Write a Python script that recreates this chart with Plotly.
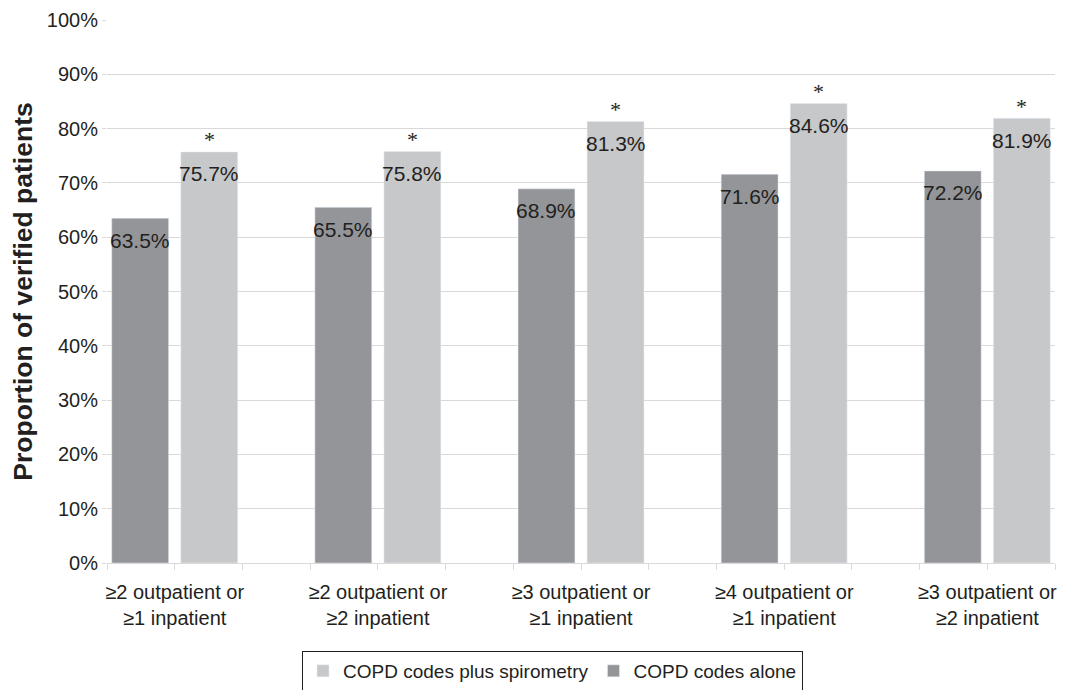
import plotly.graph_objects as go

categories = [
    "≥2 outpatient or<br>≥1 inpatient",
    "≥2 outpatient or<br>≥2 inpatient",
    "≥3 outpatient or<br>≥1 inpatient",
    "≥4 outpatient or<br>≥1 inpatient",
    "≥3 outpatient or<br>≥2 inpatient",
]
codes_alone = [0.635, 0.655, 0.689, 0.716, 0.722]
codes_spiro = [0.757, 0.758, 0.813, 0.846, 0.819]
significant = ["*", "*", "*", "*", "*"]

DARK = "#939598"
LIGHT = "#c7c8ca"
TXT = "#231f20"
GRID = "#d9d9d9"
FONT = "Liberation Sans, Arial, sans-serif"

xs = list(range(len(categories)))
BW = 0.28
OFF_D = -0.31
OFF_L = 0.03

fig = go.Figure()
fig.add_trace(go.Bar(
    x=xs, y=codes_alone, name="COPD codes alone", marker_color=DARK,
    width=BW, offset=OFF_D, legendrank=2,
))
fig.add_trace(go.Bar(
    x=xs, y=codes_spiro, name="COPD codes plus spirometry", marker_color=LIGHT,
    width=BW, offset=OFF_L, legendrank=1,
))

ann = []
for i, v in enumerate(codes_alone):
    ann.append(dict(x=i + OFF_D + BW / 2, y=v, xref="x", yref="y", text=f"{v*100:.1f}%",
                    showarrow=False, yanchor="middle", yshift=-22,
                    font=dict(size=21, color=TXT, family=FONT)))
for i, v in enumerate(codes_spiro):
    ann.append(dict(x=i + OFF_L + BW / 2, y=v, xref="x", yref="y", text=f"{v*100:.1f}%",
                    showarrow=False, yanchor="middle", yshift=-22,
                    font=dict(size=21, color=TXT, family=FONT)))
    ann.append(dict(x=i + OFF_L + BW / 2, y=v, xref="x", yref="y", text=significant[i],
                    showarrow=False, yanchor="middle", yshift=12,
                    font=dict(size=22, color=TXT, family="Liberation Serif, Times New Roman, serif")))

# page body has an 8px margin: figure is sized/offset so the plot lands at the reference spot
fig.update_layout(
    width=1057, height=682,
    paper_bgcolor="white", plot_bgcolor="white",
    margin=dict(l=99, r=10, t=12, b=127, autoexpand=False),
    showlegend=True,
    legend=dict(orientation="h", x=0.2057, xanchor="left", y=-0.162, yanchor="top",
                bordercolor=TXT, borderwidth=1,
                font=dict(size=19, color=TXT, family=FONT),
                itemwidth=30, traceorder="normal"),
    annotations=ann,
    font=dict(family=FONT, color=TXT),
)
fig.update_xaxes(
    range=[-1/3, len(categories) - 1 + 1/3],
    tickvals=xs, ticktext=categories,
    tickfont=dict(size=20, color=TXT, family=FONT),
    ticks="outside", ticklen=6, tickcolor=GRID, ticklabelstandoff=5,
    minor=dict(ticks="outside", ticklen=6, tickcolor=GRID, dtick=1/3, tick0=-1/3, showgrid=False),
    showline=True, linecolor=GRID, linewidth=1,
    showgrid=False, zeroline=False,
)
fig.update_yaxes(
    range=[0, 1], dtick=0.1, tickformat=".0%",
    tickfont=dict(size=20, color=TXT, family=FONT),
    ticks="outside", ticklen=4, tickcolor=GRID,
    showgrid=True, gridcolor=GRID, gridwidth=1,
    zeroline=False, showline=False,
    title=dict(text="<b>Proportion of verified patients</b>",
               font=dict(size=26.5, color=TXT, family=FONT), standoff=12),
)

fig.write_html("out.html")
